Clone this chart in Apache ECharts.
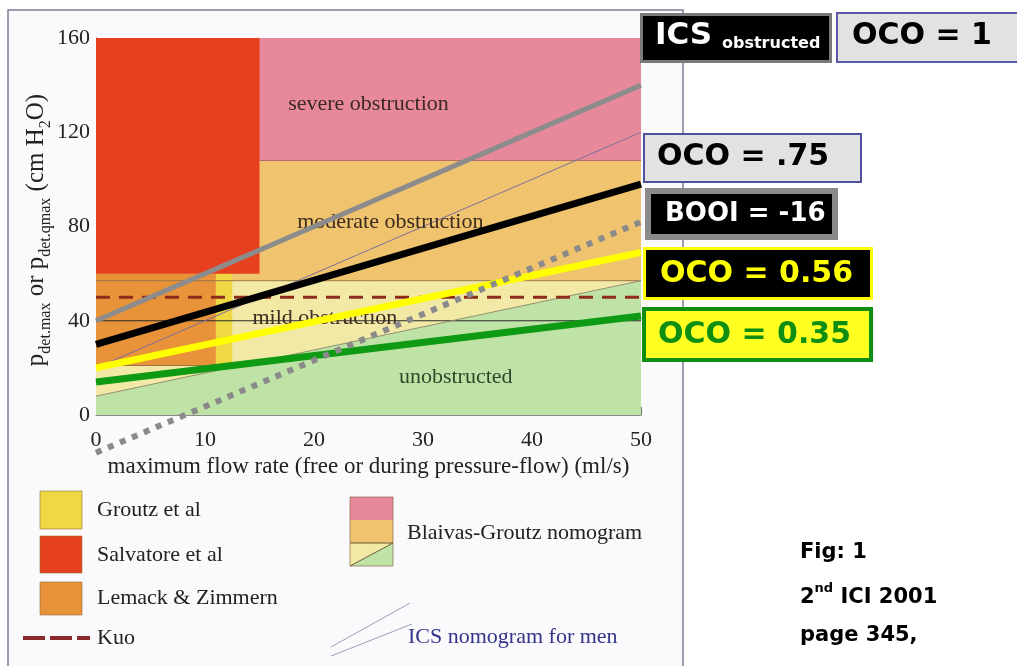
<!DOCTYPE html>
<html>
<head>
<meta charset="utf-8">
<script src="https://cdn.jsdelivr.net/npm/echarts@6/dist/echarts.min.js"></script>
<style>
  html, body { margin: 0; padding: 0; background: #ffffff; }
  #chart { width: 1017px; height: 666px; }
</style>
</head>
<body>
<div id="chart"></div>
<script>
// Axis ticks
const xTicks = [0, 10, 20, 30, 40, 50];
const yTicks = [0, 40, 80, 120, 160];

// Diagnostic zones as polygons of [Qmax (ml/s), Pdet (cm H2O)]
const zoneUnobstructed = [[0, 0], [50, 0], [50, 57], [0, 8]];
const zoneMild = [[0, 8], [50, 57], [0, 57]];
const zoneModerate = [[0, 57], [50, 57], [50, 108], [0, 108]];
const zoneSevere = [[0, 108], [50, 108], [50, 160], [0, 160]];
const zoneLemack = [[0, 21], [11, 21], [11, 60], [0, 60]];
const zoneGroutz = [[11, 21], [12.5, 21], [12.5, 60], [11, 60]];
const zoneSalvatore = [[0, 60], [15, 60], [15, 160], [0, 160]];

// Thin boundary lines
const icsUnobstructed = [[0, 20], [50, 120]];
const bgBoundary = [[0, 8], [50, 57]];
const line40 = [[0, 40], [50, 40]];
const line57 = [[0, 57], [50, 57]];
const line108 = [[15, 108], [50, 108]];
const line21 = [[0, 21], [12.5, 21]];

// Kuo criterion
const kuo = [[0, 50], [50, 50]];

// Obstruction lines
const icsObstructed = [[0, 40], [50, 140]];
const oco075 = [[0, 30], [50, 98]];
const oco056 = [[0, 20], [50, 69]];
const oco035 = [[0, 14], [50, 42]];
const booiMinus16 = [[0, -16], [50, 82]];

// Zone names
const zoneNames = ['severe obstruction', 'moderate obstruction', 'mild obstruction', 'unobstructed'];
const zoneNameValues = [[25, 132], [27, 82], [21, 41], [33, 16]];

// Legend entries
const legendSwatches = ['Groutz et al', 'Salvatore et al', 'Lemack & Zimmern'];

// Pressure axis title pieces: [text, subscript?]
const yTitleParts = [['p', false], ['det.max', true], [' or p', false], ['det.qmax', true],
  [' (cm H', false], ['2', true], ['O)', false]];

const SERIF = '"Liberation Serif", "DejaVu Serif", serif';
const BOLD = '"DejaVu Sans", "Liberation Sans", sans-serif';

const C = {
  green: '#bfe2a6', mild: '#f3e9a6', moderate: '#f0c46e', severe: '#e8899b',
  lemack: '#e8923a', groutz: '#eed844', salvatore: '#e6401e'
};

function zone(points, color, z) {
  return {
    type: 'custom', coordinateSystem: 'cartesian2d', silent: true, z: z,
    data: [points[0]],
    renderItem: function (params, api) {
      return {
        type: 'polygon',
        shape: { points: points.map(function (p) { return api.coord(p); }) },
        style: { fill: color, stroke: null }
      };
    }
  };
}

function line(data, color, width, z, dash, extra) {
  return Object.assign({
    type: 'line', data: data, symbol: 'none', silent: true, z: z,
    lineStyle: { color: color, width: width, type: dash || 'solid', cap: 'butt' }
  }, extra || {});
}

const zoneText = {
  type: 'custom', coordinateSystem: 'cartesian2d', silent: true, z: 4,
  data: zoneNameValues,
  renderItem: function (params, api) {
    const p = api.coord([api.value(0), api.value(1)]);
    const name = zoneNames[params.dataIndex];
    return {
      type: 'text', x: p[0], y: p[1],
      style: {
        text: name, font: '22px ' + SERIF,
        fill: name === 'unobstructed' ? '#2c4a2a' : '#3b2a1e',
        align: 'center', verticalAlign: 'middle',
        textAlign: 'center', textVerticalAlign: 'middle'
      }
    };
  }
};

function txt(x, y, text, font, fill, extra) {
  return Object.assign({
    type: 'text', x: x, y: y, z: 100,
    style: {
      text: text, font: font, fill: fill,
      align: 'left', verticalAlign: 'middle', textAlign: 'left', textVerticalAlign: 'middle'
    }
  }, extra || {});
}
function box(x, y, w, h, fill, stroke, lw) {
  return { type: 'rect', z: 90, shape: { x: x, y: y, width: w, height: h },
    style: { fill: fill, stroke: stroke, lineWidth: lw } };
}

// Rotated pressure-axis title with subscripts, laid out piece by piece
const measure = document.createElement('canvas').getContext('2d');
function textWidth(t, size) {
  measure.font = size + 'px ' + SERIF;
  return measure.measureText(t).width;
}
const yTitleChildren = [];
(function () {
  const main = 25, sub = 16;
  const widths = yTitleParts.map(function (p) { return textWidth(p[0], p[1] ? sub : main); });
  const total = widths.reduce(function (a, b) { return a + b; }, 0);
  let x = -total / 2;
  yTitleParts.forEach(function (p, i) {
    const size = p[1] ? sub : main;
    const baseline = p[1] ? 6 : 0;
    yTitleChildren.push({
      type: 'text', x: x, y: baseline - 0.34 * size,
      style: { text: p[0], font: size + 'px ' + SERIF, fill: '#222',
        align: 'left', verticalAlign: 'middle', textAlign: 'left', textVerticalAlign: 'middle' }
    });
    x += widths[i];
  });
})();

const legendColors = [C.groutz, C.salvatore, C.lemack];
const legendRows = [510, 555, 598];
const legendGraphics = [];
legendSwatches.forEach(function (name, i) {
  const top = [491, 536, 582][i];
  const h = [38, 37, 33][i];
  legendGraphics.push(box(40, top, 42, h, legendColors[i], 'rgba(150,110,60,0.6)', 1));
  legendGraphics.push(txt(97, legendRows[i], name, '22px ' + SERIF, '#222'));
});

const chart = echarts.init(document.getElementById('chart'), null, { renderer: 'canvas' });

chart.setOption({
  animation: false,
  backgroundColor: '#ffffff',
  grid: { left: 96, right: 376, top: 38, bottom: 251, containLabel: false },
  xAxis: {
    type: 'value', min: xTicks[0], max: xTicks[xTicks.length - 1], interval: 10,
    name: 'maximum flow rate (free or during pressure-flow) (ml/s)',
    nameLocation: 'middle', nameGap: 35,
    nameTextStyle: { fontFamily: SERIF, fontSize: 23, color: '#222' },
    axisLine: { show: true, lineStyle: { color: '#8a8a8a', width: 1 } },
    axisTick: { show: true, inside: true, length: 8, lineStyle: { color: '#777' } },
    axisLabel: { margin: 14, fontFamily: SERIF, fontSize: 22, color: '#222' },
    splitLine: { show: false }
  },
  yAxis: {
    type: 'value', min: yTicks[0], max: yTicks[yTicks.length - 1], interval: 40,
    axisLine: { show: true, lineStyle: { color: '#555', width: 1 } },
    axisTick: { show: false },
    axisLabel: { margin: 6, fontFamily: SERIF, fontSize: 22, color: '#222' },
    splitLine: { show: false }
  },
  series: [
    zone(zoneUnobstructed, C.green, 1),
    zone(zoneMild, C.mild, 1),
    zone(zoneModerate, C.moderate, 1),
    zone(zoneSevere, C.severe, 1),
    zone(zoneLemack, C.lemack, 2),
    zone(zoneGroutz, C.groutz, 2),
    zone(zoneSalvatore, C.salvatore, 2),
    line(line108, '#b86a6a', 1, 3),
    line(line57, '#9a7646', 1, 3),
    line(line21, '#9a7646', 1, 3),
    line(line40, '#2a2a2a', 1, 3),
    line(bgBoundary, '#8f8f6e', 1, 3),
    line(icsUnobstructed, '#7d6f9c', 1, 3),
    zoneText,
    line(kuo, '#8e2c1c', 3, 5, [14, 9]),
    line(oco035, '#0e9a12', 7, 6),
    line(oco056, '#ffff00', 7, 7),
    line(booiMinus16, '#8a8a8a', 6, 8, [6, 7], { clip: false }),
    line(oco075, '#000000', 7, 9),
    line(icsObstructed, '#8c8c8c', 5, 9)
  ],
  graphic: [
    // figure frame
    { type: 'rect', z: -10, shape: { x: 8, y: 10, width: 675, height: 670 },
      style: { fill: '#fafafc', stroke: '#7e7e98', lineWidth: 1.5 } },

    // pressure axis title
    { type: 'group', x: 45, y: 230, rotation: Math.PI / 2, z: 100, children: yTitleChildren },

    // right-hand labels
    box(641.5, 14.5, 189, 47, '#000000', '#7a7a7a', 3),
    txt(655, 36, 'ICS', 'bold 31px ' + BOLD, '#ffffff'),
    txt(722, 44, 'obstructed', 'bold 16px ' + BOLD, '#ffffff'),
    box(837, 13, 185, 49, '#e2e2e2', '#5a5aa8', 2),
    txt(852, 36, 'OCO = 1', 'bold 30px ' + BOLD, '#000000'),

    box(644, 134, 217, 48, '#e2e2e2', '#5050a0', 2),
    txt(657, 157, 'OCO = .75', 'bold 30px ' + BOLD, '#000000'),
    box(648, 191, 187, 46, '#000000', '#8a8a8a', 6),
    txt(665, 214, 'BOOI = -16', 'bold 26px ' + BOLD, '#ffffff'),
    box(644.5, 248.5, 227, 50, '#000000', '#ffff00', 3),
    txt(660, 274, 'OCO = 0.56', 'bold 30px ' + BOLD, '#ffff00'),
    box(644, 309, 227, 51, '#ffff22', '#0f8f12', 4),
    txt(658, 335, 'OCO = 0.35', 'bold 30px ' + BOLD, '#0f8f12'),

    // citation
    txt(800, 553, 'Fig: 1', 'bold 21px ' + BOLD, '#000'),
    { type: 'text', x: 800, y: 595, z: 100,
      style: {
        text: '{n|2}{u|nd}{n| ICI 2001}',
        rich: {
          n: { font: 'bold 21px ' + BOLD, fill: '#000', lineHeight: 26, verticalAlign: 'bottom' },
          u: { font: 'bold 13px ' + BOLD, fill: '#000', lineHeight: 13, verticalAlign: 'top' }
        },
        align: 'left', verticalAlign: 'middle', textAlign: 'left', textVerticalAlign: 'middle'
      } },
    txt(800, 636, 'page 345,', 'bold 21px ' + BOLD, '#000'),

    // legend
    ...legendGraphics,
    { type: 'line', z: 100, shape: { x1: 23, y1: 638, x2: 90, y2: 638 },
      style: { stroke: '#8b2a2a', lineWidth: 4, lineDash: [22, 5] } },
    txt(97, 638, 'Kuo', '22px ' + SERIF, '#222'),

    box(350, 497, 43, 23, C.severe, null, 0),
    box(350, 520, 43, 23, C.moderate, null, 0),
    { type: 'polygon', z: 90, shape: { points: [[350, 543], [393, 543], [350, 566]] },
      style: { fill: C.mild } },
    { type: 'polygon', z: 90, shape: { points: [[393, 543], [393, 566], [350, 566]] },
      style: { fill: C.green } },
    { type: 'line', z: 91, shape: { x1: 350, y1: 566, x2: 393, y2: 543 },
      style: { stroke: '#6a5a3a', lineWidth: 1 } },
    { type: 'line', z: 91, shape: { x1: 350, y1: 543, x2: 393, y2: 543 },
      style: { stroke: '#6a5a3a', lineWidth: 1 } },
    { type: 'rect', z: 92, shape: { x: 350, y: 497, width: 43, height: 69 },
      style: { fill: null, stroke: 'rgba(140,100,70,0.7)', lineWidth: 1 } },
    txt(407, 533, 'Blaivas-Groutz nomogram', '22px ' + SERIF, '#222'),

    { type: 'line', z: 100, shape: { x1: 331, y1: 647, x2: 410, y2: 603 },
      style: { stroke: '#98a2bc', lineWidth: 1 } },
    { type: 'line', z: 100, shape: { x1: 331, y1: 656, x2: 412, y2: 624 },
      style: { stroke: '#98a2bc', lineWidth: 1 } },
    txt(408, 637, 'ICS nomogram for men', '22px ' + SERIF, '#34348a')
  ]
});
</script>
</body>
</html>
